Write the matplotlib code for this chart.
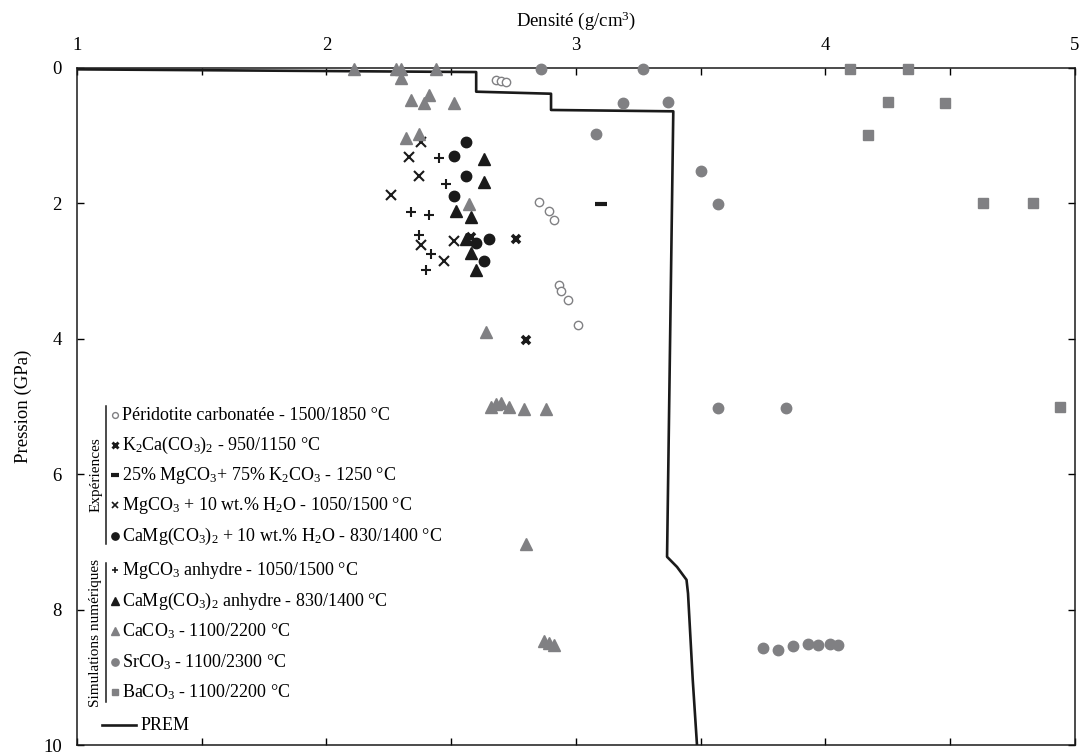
import matplotlib
matplotlib.use('agg')

import numpy as np
from matplotlib import pyplot as plt
from matplotlib.ticker import MultipleLocator

plt.rcParams['font.family'] = ['Liberation Serif', 'DejaVu Serif']
plt.rcParams['mathtext.fontset'] = 'custom'
plt.rcParams['mathtext.rm'] = 'Liberation Serif'
plt.rcParams['mathtext.default'] = 'regular'

GREY = '#808083'
BLACK = '#1a1a1a'

# PREM density profile (g/cm3) against pressure (GPa)
prem_rho = [1.00, 2.60, 2.60, 2.90, 2.90, 3.39, 3.365, 3.405, 3.443, 3.449, 3.468, 3.485]
prem_p = [0.02, 0.06, 0.35, 0.38, 0.62, 0.64, 7.22, 7.37, 7.56, 7.76, 9.04, 10.0]

# experiments
perido_rho = [2.68, 2.70, 2.72, 2.85, 2.89, 2.91, 2.93, 2.94, 2.97, 3.01]
perido_p = [0.17, 0.19, 0.21, 1.98, 2.11, 2.24, 3.21, 3.29, 3.43, 3.79]

k2ca_rho = [2.58, 2.76, 2.80]
k2ca_p = [2.49, 2.52, 4.02]

mgk_rho = [3.10]
mgk_p = [2.01]

mgh2o_rho = [2.38, 2.33, 2.37, 2.26, 2.38, 2.51, 2.47]
mgh2o_p = [1.10, 1.31, 1.60, 1.88, 2.61, 2.56, 2.85]

camgh2o_rho = [2.56, 2.51, 2.56, 2.51, 2.60, 2.65, 2.63]
camgh2o_p = [1.10, 1.30, 1.59, 1.89, 2.59, 2.53, 2.85]

# numerical simulations
mg_rho = [2.45, 2.48, 2.34, 2.41, 2.37, 2.42, 2.40]
mg_p = [1.33, 1.72, 2.13, 2.17, 2.46, 2.74, 2.99]

camg_rho = [2.63, 2.63, 2.52, 2.58, 2.56, 2.58, 2.60]
camg_p = [1.35, 1.69, 2.11, 2.20, 2.53, 2.73, 2.99]

caco3_rho = [2.11, 2.28, 2.30, 2.44, 2.30, 2.34, 2.39, 2.41, 2.51, 2.32, 2.37,
             2.57, 2.64, 2.66, 2.68, 2.70, 2.73, 2.79, 2.88, 2.80, 2.87, 2.89, 2.91]
caco3_p = [0.02, 0.02, 0.02, 0.02, 0.15, 0.47, 0.52, 0.40, 0.52, 1.03, 0.98,
           2.01, 3.90, 5.00, 4.96, 4.95, 5.00, 5.04, 5.03, 7.03, 8.47, 8.50, 8.52]

srco3_rho = [2.86, 3.27, 3.19, 3.37, 3.08, 3.50, 3.57, 3.57, 3.84,
             3.75, 3.81, 3.87, 3.93, 3.97, 4.02, 4.05]
srco3_p = [0.02, 0.02, 0.51, 0.50, 0.98, 1.52, 2.01, 5.02, 5.02,
           8.57, 8.59, 8.54, 8.51, 8.52, 8.51, 8.52]

baco3_rho = [4.10, 4.33, 4.25, 4.48, 4.17, 4.63, 4.83, 4.94]
baco3_p = [0.02, 0.02, 0.50, 0.51, 0.99, 2.00, 2.00, 5.00]

series = [
    (perido_rho, perido_p, dict(marker='o', ms=6, mfc='white', mec=GREY, mew=1.0),
     'Péridotite carbonatée - 1500/1850 °C'),
    (k2ca_rho, k2ca_p, dict(marker='x', ms=6, mec=BLACK, mew=2.6),
     'K$_2$Ca(CO$_3$)$_2$ - 950/1150 °C'),
    (mgk_rho, mgk_p, dict(marker='_', ms=9, mec=BLACK, mew=3),
     '25% MgCO$_3$+ 75% K$_2$CO$_3$ - 1250 °C'),
    (mgh2o_rho, mgh2o_p, dict(marker='x', ms=7, mec=BLACK, mew=1.5),
     'MgCO$_3$ + 10 wt.% H$_2$O - 1050/1500 °C'),
    (camgh2o_rho, camgh2o_p, dict(marker='o', ms=7.5, mfc=BLACK, mec=BLACK),
     'CaMg(CO$_3$)$_2$ + 10 wt.% H$_2$O - 830/1400 °C'),
    (mg_rho, mg_p, dict(marker='+', ms=7, mec=BLACK, mew=1.5),
     'MgCO$_3$ anhydre - 1050/1500 °C'),
    (camg_rho, camg_p, dict(marker='^', ms=8, mfc=BLACK, mec=BLACK),
     'CaMg(CO$_3$)$_2$ anhydre - 830/1400 °C'),
    (caco3_rho, caco3_p, dict(marker='^', ms=8, mfc=GREY, mec=GREY),
     'CaCO$_3$ - 1100/2200 °C'),
    (srco3_rho, srco3_p, dict(marker='o', ms=7.5, mfc=GREY, mec=GREY),
     'SrCO$_3$ - 1100/2300 °C'),
    (baco3_rho, baco3_p, dict(marker='s', ms=7, mfc=GREY, mec=GREY),
     'BaCO$_3$ - 1100/2200 °C'),
]

fig = plt.figure(figsize=(10.84, 7.53), dpi=100)
ax = fig.add_axes([0.0710, 0.0106, 0.9207, 0.8991])

ax.plot(prem_rho, prem_p, color=BLACK, lw=1.9, zorder=2)

for rho, p, style, _ in series:
    ax.plot(rho, p, ls='none', clip_on=False, zorder=3, **style)

ax.set_xlim(1, 5)
ax.set_ylim(10, 0)
ax.xaxis.set_major_locator(MultipleLocator(1))
ax.xaxis.set_minor_locator(MultipleLocator(0.5))
ax.yaxis.set_major_locator(MultipleLocator(2))
ax.tick_params(axis='x', which='both', top=True, bottom=True, labeltop=True,
               labelbottom=False, direction='in', length=5, width=1, pad=10)
ax.tick_params(axis='y', which='both', left=True, right=True, direction='in',
               length=5, width=1, pad=11)
ax.tick_params(labelsize=13.5)
for sp in ax.spines.values():
    sp.set_linewidth(1.1)
    sp.set_color(BLACK)

ax.xaxis.set_label_position('top')
ax.set_xlabel('Densité (g/cm$^3$)', fontsize=13.5, labelpad=8)
ax.set_ylabel('Pression (GPa)', fontsize=13.5, labelpad=8)

# hand-built legend, in axes fraction
def ax_frac(px, py):
    return (px - 77) / 998, (745 - py) / 677

row_py = [415, 445, 475, 505, 536, 570, 601, 631, 662, 692]
for (_, _, style, label), py in zip(series, row_py):
    mx, my = ax_frac(115, py)
    small = dict(style)
    small['ms'] = style['ms'] * 0.7
    if small.get('marker') in ('x', '+'):
        small['mew'] = style.get('mew', 1) * 0.8
    ax.plot([mx], [my], ls='none', transform=ax.transAxes, clip_on=False, **small)
    tx, ty = ax_frac(122, py)
    ax.text(tx, ty, label, transform=ax.transAxes, fontsize=13,
            va='center', ha='left')

x0, y0 = ax_frac(102, 725)
x1, _ = ax_frac(136, 725)
ax.plot([x0, x1], [y0, y0], color=BLACK, lw=1.9, transform=ax.transAxes, clip_on=False)
tx, _ = ax_frac(141, 725)
ax.text(tx, y0, 'PREM', transform=ax.transAxes, fontsize=13, va='center', ha='left')

# group brackets with rotated captions
for top, bottom, caption in [(406, 544, 'Expériences'), (563, 702, 'Simulations numériques')]:
    bx, by0 = ax_frac(106, top)
    _, by1 = ax_frac(106, bottom)
    ax.plot([bx, bx], [by0, by1], color=BLACK, lw=1.1, transform=ax.transAxes, clip_on=False)
    cx, _ = ax_frac(96, 0)
    ax.text(cx, (by0 + by1) / 2, caption, transform=ax.transAxes, fontsize=11,
            rotation=90, va='center', ha='center')

fig.savefig('out.png', dpi=100)
plt.close(fig)
